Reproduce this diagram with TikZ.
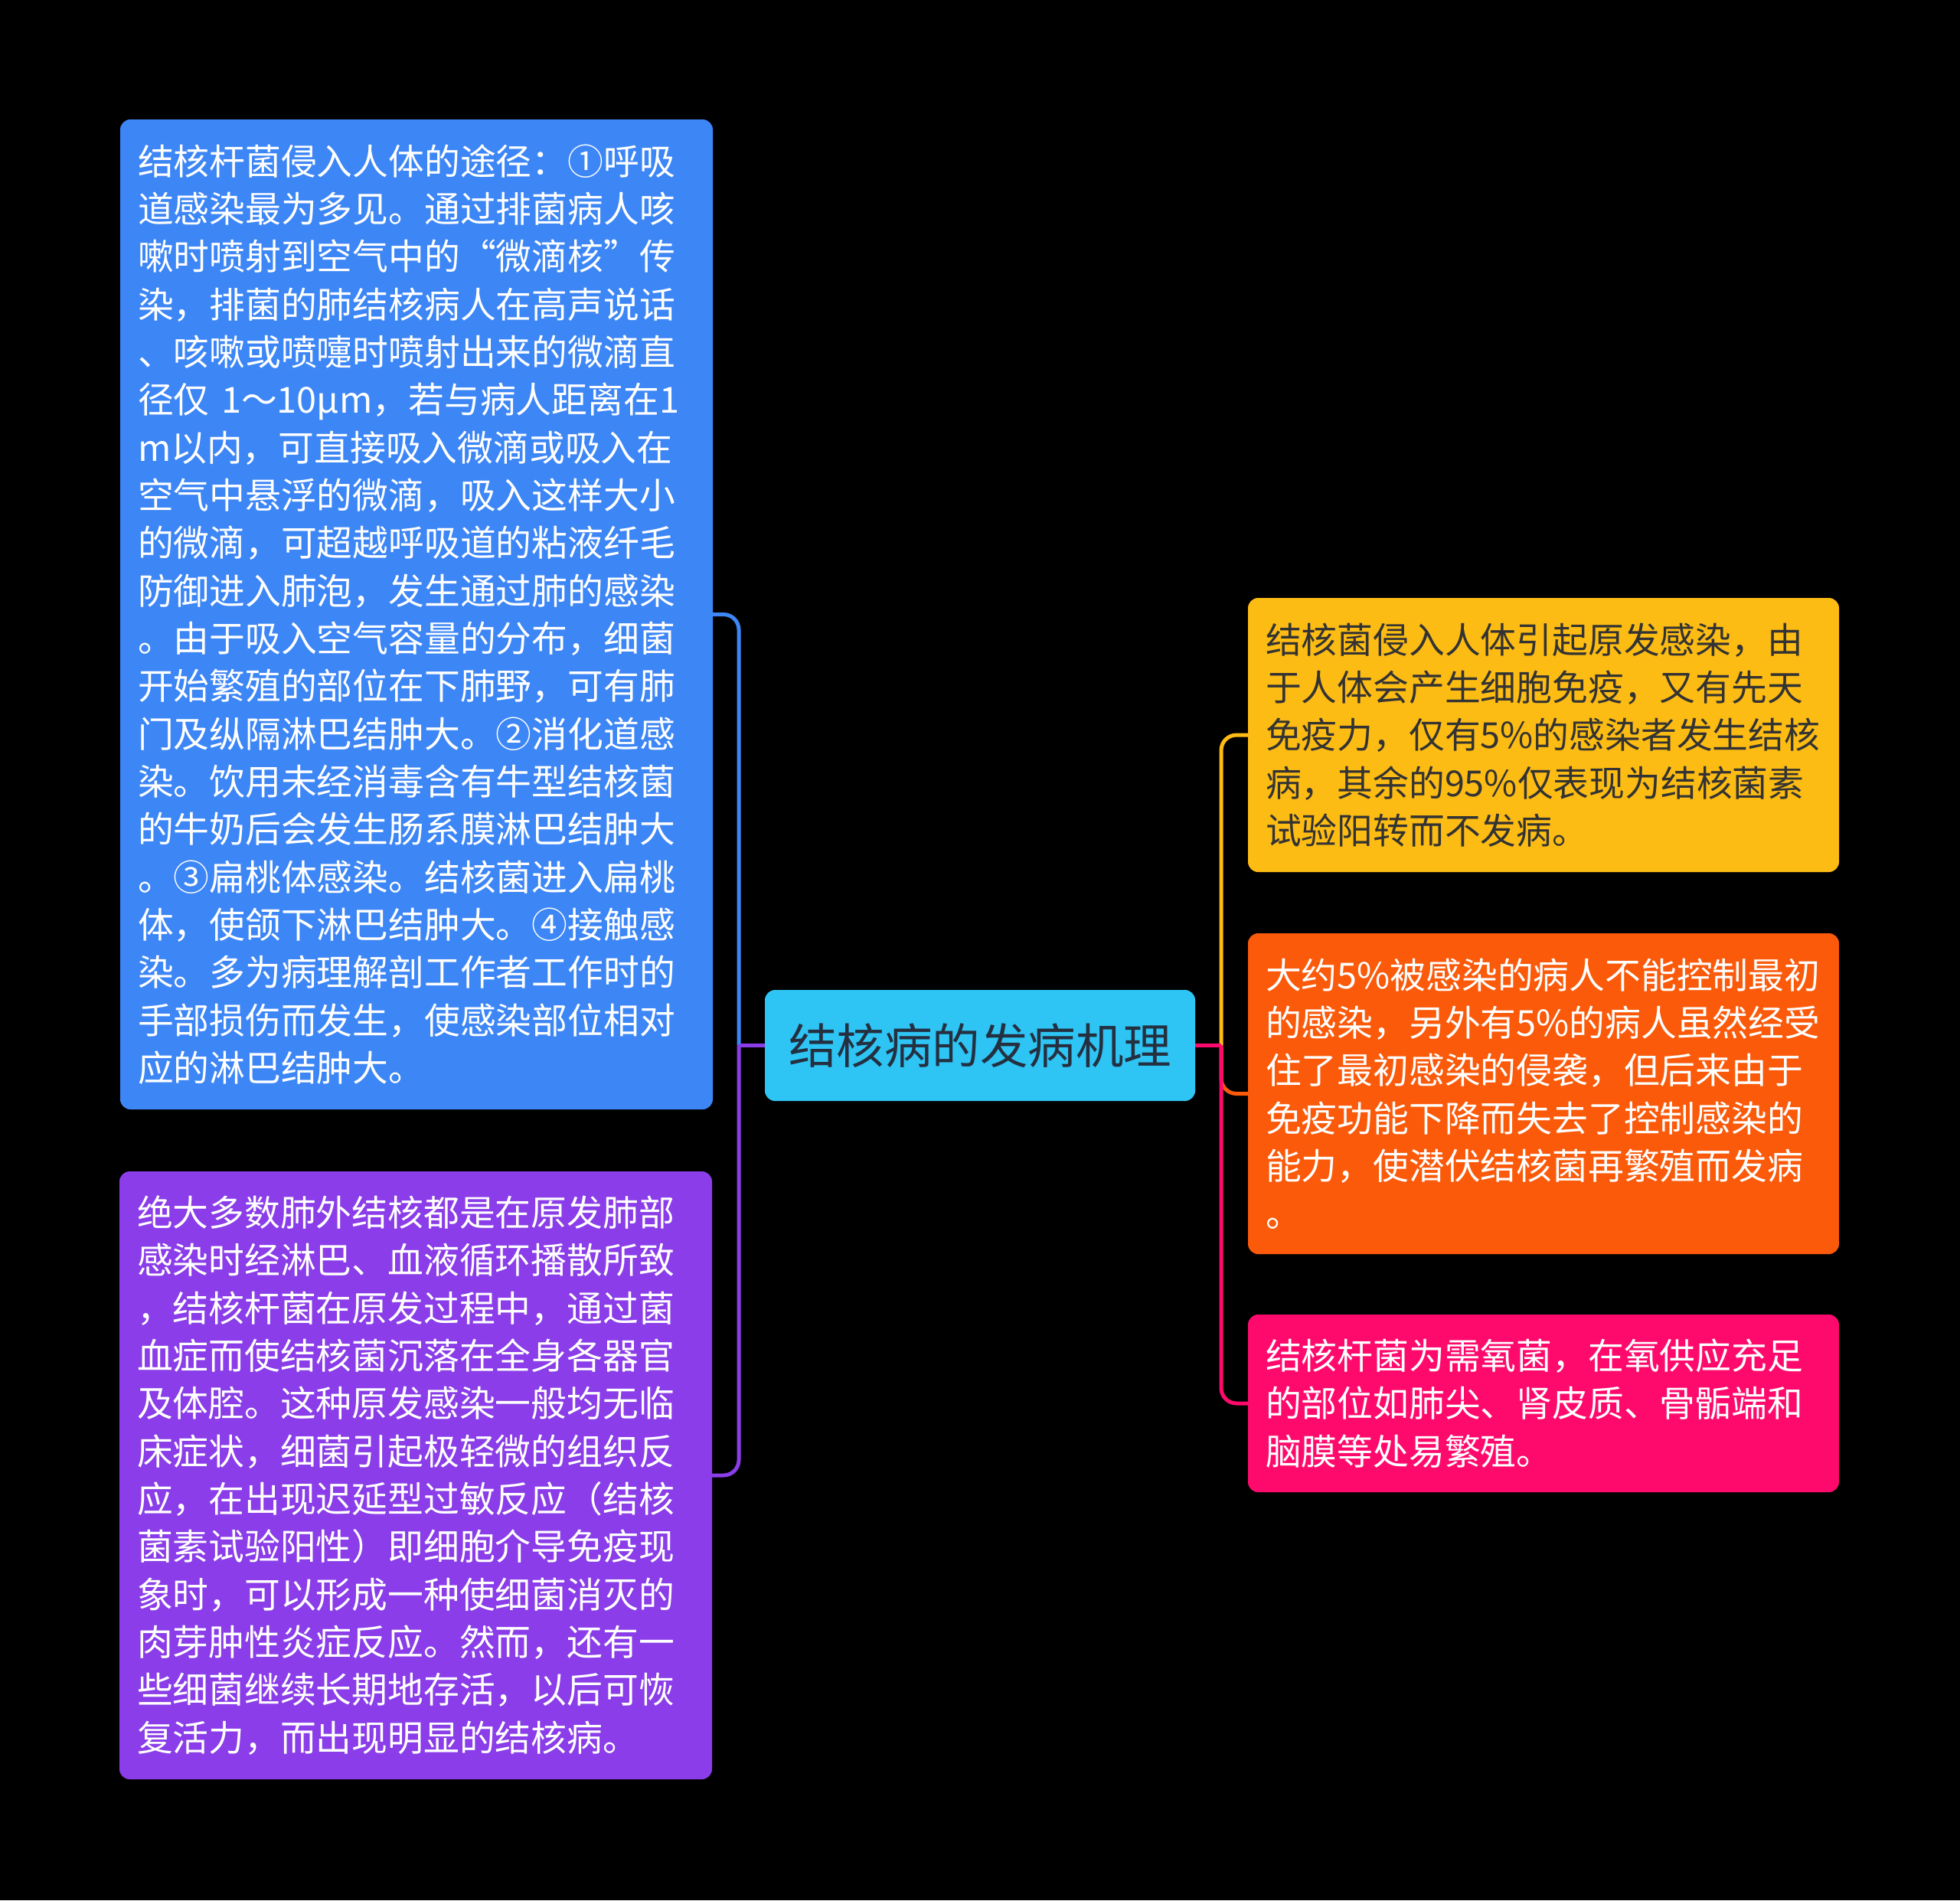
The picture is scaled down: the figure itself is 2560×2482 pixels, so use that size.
\documentclass[tikz,border=0pt]{standalone}
\usepackage{fontspec}
\setmainfont{Noto Sans CJK SC}
\definecolor{blueC}{HTML}{3D86F6}
\definecolor{purpleC}{HTML}{8A3DE8}
\definecolor{cyanC}{HTML}{2EC4F4}
\definecolor{yellowC}{HTML}{FDBC14}
\definecolor{orangeC}{HTML}{FA5A0A}
\definecolor{pinkC}{HTML}{FE0A6D}
\definecolor{darkT}{HTML}{333333}
\definecolor{titleT}{HTML}{243040}
\begin{document}
\begin{tikzpicture}[x=0.3pt,y=-0.3pt,
  box/.style={rectangle, rounded corners=4pt, inner xsep=6.9pt, inner ysep=0pt, outer sep=0pt,
    align=left, anchor=north west, text=white,
    font=\fontsize{14.04pt}{18.7pt}\selectfont},
  leftbox/.style={box, minimum width=232.2pt, text width=218.4pt},
  rightbox/.style={box, minimum width=231.6pt, text width=217.8pt},
  conn/.style={line width=1.5pt},
  elbow/.style={conn, rounded corners=6pt}]
\useasboundingbox (0,0) rectangle (2560,2482);
\fill[black] (0,0) rectangle (2560,2482);

% central topic
\node[rectangle, rounded corners=4pt, fill=cyanC, minimum width=168.6pt, minimum height=43.5pt,
  inner sep=0pt, outer sep=0pt, text=titleT, font=\fontsize{18.75pt}{22pt}\selectfont]
  (c) at (1280,1365.5) {结核病的发病机理};

% left boxes
\node[leftbox, fill=blueC, minimum height=387.9pt] (b1) at (157,156) {%
结核杆菌侵入人体的途径：①呼吸\\
道感染最为多见。通过排菌病人咳\\
嗽时喷射到空气中的“微滴核”传\\
染，排菌的肺结核病人在高声说话\\
、咳嗽或喷嚏时喷射出来的微滴直\\
径仅~1～10μm，若与病人距离在1\\
m以内，可直接吸入微滴或吸入在\\
空气中悬浮的微滴，吸入这样大小\\
的微滴，可超越呼吸道的粘液纤毛\\
防御进入肺泡，发生通过肺的感染\\
。由于吸入空气容量的分布，细菌\\
开始繁殖的部位在下肺野，可有肺\\
门及纵隔淋巴结肿大。②消化道感\\
染。饮用未经消毒含有牛型结核菌\\
的牛奶后会发生肠系膜淋巴结肿大\\
。③扁桃体感染。结核菌进入扁桃\\
体，使颌下淋巴结肿大。④接触感\\
染。多为病理解剖工作者工作时的\\
手部损伤而发生，使感染部位相对\\
应的淋巴结肿大。};

\node[leftbox, fill=purpleC, minimum height=238.2pt] (b2) at (156,1530) {%
绝大多数肺外结核都是在原发肺部\\
感染时经淋巴、血液循环播散所致\\
，结核杆菌在原发过程中，通过菌\\
血症而使结核菌沉落在全身各器官\\
及体腔。这种原发感染一般均无临\\
床症状，细菌引起极轻微的组织反\\
应，在出现迟延型过敏反应（结核\\
菌素试验阳性）即细胞介导免疫现\\
象时，可以形成一种使细菌消灭的\\
肉芽肿性炎症反应。然而，还有一\\
些细菌继续长期地存活，以后可恢\\
复活力，而出现明显的结核病。};

% right boxes
\node[rightbox, fill=yellowC, text=darkT, minimum height=107.4pt] (r1) at (1630,781) {%
结核菌侵入人体引起原发感染，由\\
于人体会产生细胞免疫，又有先天\\
免疫力，仅有5\%的感染者发生结核\\
病，其余的95\%仅表现为结核菌素\\
试验阳转而不发病。};

\node[rightbox, fill=orangeC, minimum height=125.7pt] (r2) at (1630,1219) {%
大约5\%被感染的病人不能控制最初\\
的感染，另外有5\%的病人虽然经受\\
住了最初感染的侵袭，但后来由于\\
免疫功能下降而失去了控制感染的\\
能力，使潜伏结核菌再繁殖而发病\\
。};

\node[rightbox, fill=pinkC, minimum height=69.6pt] (r3) at (1630,1717) {%
结核杆菌为需氧菌，在氧供应充足\\
的部位如肺尖、肾皮质、骨骺端和\\
脑膜等处易繁殖。};

% junctions
\coordinate (jl) at (965,1365.5);
\coordinate (jr) at (1595,1365.5);

% left connectors
\draw[elbow, blueC] (jl) |- (b1.east);
\draw[elbow, purpleC] (jl) |- (b2.east);
\draw[conn, purpleC] (c.west) -- (jl);

% right connectors
\draw[elbow, yellowC] (jr) |- (r1.west);
\draw[elbow, orangeC] (jr) |- (r2.west);
\draw[elbow, pinkC] (jr) |- (r3.west);
\draw[conn, pinkC] (c.east) -- (jr);
\end{tikzpicture}
\end{document}
